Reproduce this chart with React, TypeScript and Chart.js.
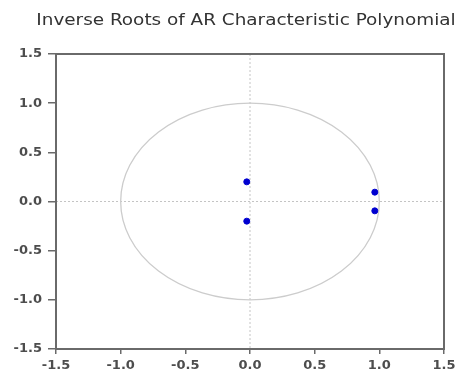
import React, { useEffect, useRef } from "react";
import { Chart, registerables } from "chart.js";

Chart.register(...registerables);

const TITLE = "Inverse Roots of AR Characteristic Polynomial";
const rootReal = [-0.025, -0.025, 0.965, 0.965];
const rootImag = [0.2, -0.2, 0.095, -0.095];
const unitCircleRadius = 1;
const axisMin = -1.5;
const axisMax = 1.5;
const tickStep = 0.5;

const framePlugin = {
  id: "framePlugin",
  beforeDatasetsDraw(chart: any) {
    const { ctx, chartArea, scales } = chart;
    const xs = scales.x;
    const ys = scales.y;
    const cx = xs.getPixelForValue(0);
    const cy = ys.getPixelForValue(0);
    ctx.save();
    ctx.beginPath();
    ctx.rect(chartArea.left, chartArea.top, chartArea.right - chartArea.left, chartArea.bottom - chartArea.top);
    ctx.clip();
    ctx.strokeStyle = "#c4c4c4";
    ctx.lineWidth = 1;
    ctx.setLineDash([2, 2]);
    ctx.beginPath();
    ctx.moveTo(cx, chartArea.top);
    ctx.lineTo(cx, chartArea.bottom);
    ctx.moveTo(chartArea.left, cy);
    ctx.lineTo(chartArea.right, cy);
    ctx.stroke();
    ctx.setLineDash([]);
    const rx = Math.abs(xs.getPixelForValue(unitCircleRadius) - cx);
    const ry = Math.abs(ys.getPixelForValue(unitCircleRadius) - cy);
    ctx.strokeStyle = "#cccccc";
    ctx.lineWidth = 1.3;
    ctx.beginPath();
    ctx.ellipse(cx, cy, rx, ry, 0, 0, Math.PI * 2);
    ctx.stroke();
    ctx.restore();
  },
  afterDraw(chart: any) {
    const { ctx, chartArea } = chart;
    ctx.save();
    ctx.strokeStyle = "#6a6a6a";
    ctx.lineWidth = 2;
    ctx.strokeRect(chartArea.left, chartArea.top, chartArea.right - chartArea.left, chartArea.bottom - chartArea.top);
    ctx.restore();
    ctx.save();
    ctx.fillStyle = "#333333";
    ctx.font = "16px 'DejaVu Sans'";
    ctx.textAlign = "center";
    ctx.textBaseline = "middle";
    ctx.translate(246, 21);
    ctx.scale(1.15, 1);
    ctx.fillText(TITLE, 0, 0);
    ctx.restore();
  },
};

export default function App() {
  const ref = useRef<HTMLCanvasElement | null>(null);
  useEffect(() => {
    if (!ref.current) return;
    const points = rootReal.map((re, i) => ({ x: re, y: rootImag[i] }));
    const tickFont = { family: "'DejaVu Sans'", size: 13, weight: "bold" as const };
    const chart = new Chart(ref.current, {
      type: "scatter",
      data: {
        datasets: [
          {
            data: points,
            backgroundColor: "#0000d0",
            borderColor: "#0000d0",
            pointRadius: 3,
            pointHoverRadius: 3,
          },
        ],
      },
      options: {
        responsive: false,
        animation: false,
        layout: { padding: { top: 54, right: 22, bottom: 0, left: 0 } },
        plugins: {
          legend: { display: false },
          tooltip: { enabled: false },
          title: { display: false },
        },
        scales: {
          x: {
            type: "linear",
            min: axisMin,
            max: axisMax,
            ticks: {
              stepSize: tickStep,
              callback: (v: any) => Number(v).toFixed(1),
              font: tickFont,
              color: "#4d4d4d",
              padding: 4,
              maxRotation: 0,
            },
            grid: { drawOnChartArea: false, drawTicks: true, tickLength: 5, color: "#6a6a6a", lineWidth: 1.5 },
            border: { display: true, color: "#6a6a6a", width: 2 },
            afterFit: (s: any) => {
              s.height = 26;
            },
          },
          y: {
            type: "linear",
            min: axisMin,
            max: axisMax,
            ticks: {
              stepSize: tickStep,
              callback: (v: any) => Number(v).toFixed(1),
              font: tickFont,
              color: "#4d4d4d",
              padding: 6,
            },
            grid: { drawOnChartArea: false, drawTicks: true, tickLength: 8, color: "#6a6a6a", lineWidth: 1.5 },
            border: { display: true, color: "#6a6a6a", width: 2 },
            afterFit: (s: any) => {
              s.width = 56;
            },
          },
        },
      },
      plugins: [framePlugin],
    });
    return () => chart.destroy();
  }, []);
  return (
    <div style={{ position: "fixed", left: 0, top: 0, width: 466, height: 375, background: "#fff" }}>
      <canvas ref={ref} width={466} height={375} />
    </div>
  );
}
